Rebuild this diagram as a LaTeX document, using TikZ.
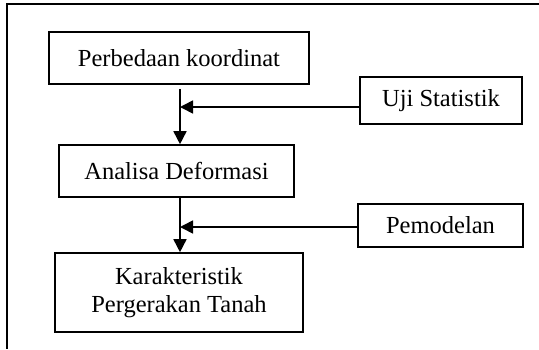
\documentclass[tikz,border=0pt]{standalone}
\usepackage{fontspec}
\setmainfont{Liberation Serif}
\usetikzlibrary{arrows.meta}
\tikzset{kotak/.style={draw,line width=1.6pt,inner sep=0pt,align=center,font=\fontsize{24.5}{28}\selectfont}}
\begin{document}
\begin{tikzpicture}[x=1pt,y=-1pt,>={Triangle[length=13pt,width=13pt]}]
		\useasboundingbox (0,0) rectangle (539,349);
		\draw[line width=1.5pt] (539,4)--(7,4)--(7,349);
		\node[kotak,minimum width=260pt,minimum height=52pt] (beda) at (179,58) {Perbedaan koordinat};
		\node[kotak,minimum width=162pt,minimum height=47pt] (uji) at (441,100.5) {Uji Statistik};
		\node[kotak,minimum width=235pt,minimum height=52pt] (analisa) at (176.5,171) {Analisa Deformasi};
		\node[kotak,minimum width=165pt,minimum height=43pt] (model) at (440.5,225.5) {Pemodelan};
		\node[kotak,minimum width=248pt,minimum height=79pt] (karakter) at (179,292.5) {Karakteristik\\Pergerakan Tanah};
		\coordinate (j1) at (180,107);
		\coordinate (j2) at (180,227);
		\draw[->,line width=1.6pt,shorten <=4pt] (j1|-beda.south)--(j1|-analisa.north);
		\draw[->,line width=1.6pt] (j2|-analisa.south)--(j2|-karakter.north);
		\draw[->,line width=1.6pt] (uji.west|-j1)--(j1);
		\draw[->,line width=1.6pt] (model.west|-j2)--(j2);
		%\draw[ultra thin,cyan](0,0)grid[step=20](539,349);
\end{tikzpicture}
\end{document}
